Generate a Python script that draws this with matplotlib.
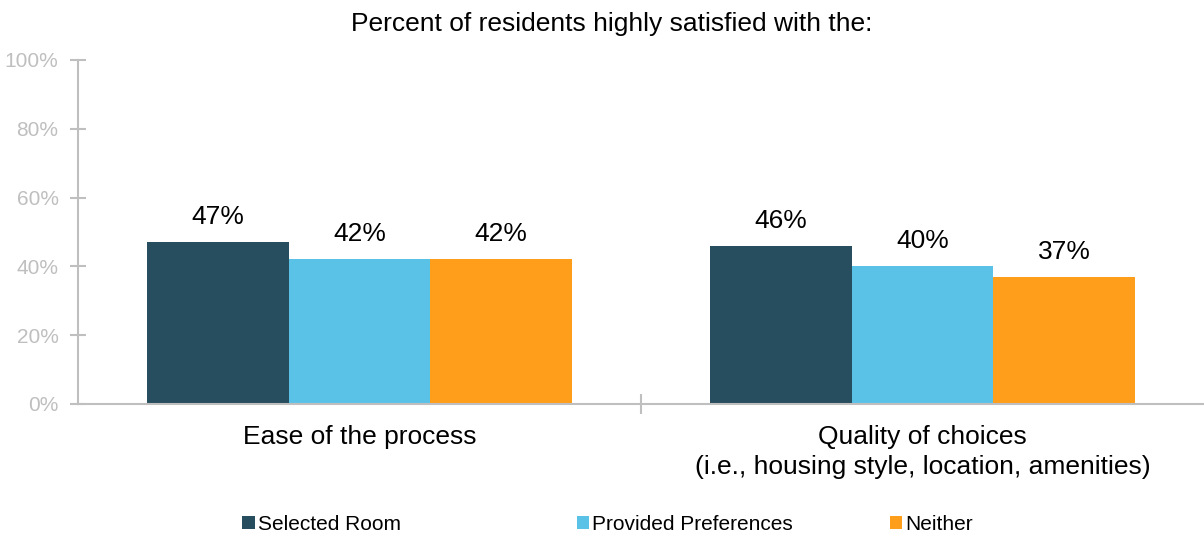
import numpy as np
import matplotlib.pyplot as plt
from matplotlib.patches import Patch

plt.rcParams['font.family'] = ['Liberation Sans', 'DejaVu Sans']

categories = ['Ease of the process',
              'Quality of choices\n(i.e., housing style, location, amenities)']
series_names = ['Selected Room', 'Provided Preferences', 'Neither']
selected_room = [47, 46]
provided_prefs = [42, 40]
neither = [42, 37]

colors = ['#264E5E', '#5BC2E7', '#FF9E1B']
grey = '#BFBFBF'

fig = plt.figure(figsize=(12.04, 5.35), dpi=100)
ax = fig.add_axes([0.0648, 0.2449, 0.9352, 0.643])

x = np.arange(len(categories))
width = 0.2515
for i, (vals, col) in enumerate(zip([selected_room, provided_prefs, neither], colors)):
    pos = x + (i - 1) * width
    ax.bar(pos, vals, width=width, color=col, label=series_names[i])
    for p, v in zip(pos, vals):
        ax.annotate(f'{v}%', (p, v), xytext=(0, 18), textcoords='offset points',
                    ha='center', va='center', fontsize=19, color='black')

ax.set_xlim(-0.5, 1.5)
ax.set_ylim(0, 100)
ax.set_yticks(np.arange(0, 101, 20))
ax.set_yticklabels([f'{t}%' for t in range(0, 101, 20)])
ax.tick_params(axis='y', direction='inout', length=12, color=grey, labelcolor=grey,
               labelsize=15, pad=8, width=1.5)

ax.set_xticks(x)
ax.set_xticklabels(categories, fontsize=19, linespacing=1.3)
ax.tick_params(axis='x', length=0, pad=15)
ax.set_xticks([0.5], minor=True)
ax.tick_params(axis='x', which='minor', direction='inout', length=14, color=grey, width=1.5)

for s in ['top', 'right']:
    ax.spines[s].set_visible(False)
for s in ['left', 'bottom']:
    ax.spines[s].set_color(grey)
    ax.spines[s].set_linewidth(1.5)

fig.text(0.508, 0.955, 'Percent of residents highly satisfied with the:',
         ha='center', va='center', fontsize=19)

# legend entries placed individually along the bottom
legend_x = [0.201, 0.479, 0.739]
for name, col, lx in zip(series_names, colors, legend_x):
    fig.legend(handles=[Patch(facecolor=col)], labels=[name], loc='center left',
               bbox_to_anchor=(lx, 0.02), frameon=False, fontsize=15,
               handlelength=0.6, handleheight=0.6, handletextpad=0.15,
               borderaxespad=0, borderpad=0)

fig.savefig('out.png', dpi=100)
